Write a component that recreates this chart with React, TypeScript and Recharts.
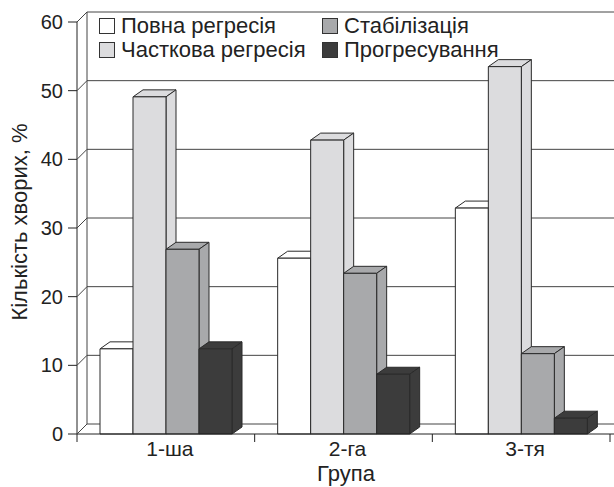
import { BarChart, Bar, XAxis, YAxis, CartesianGrid, Legend } from "recharts";

// ---- data ----
const groups = ["1-ша", "2-га", "3-тя"];
const fullRegression = [12.4, 25.6, 32.9];
const partialRegression = [49.1, 42.8, 53.5];
const stabilization = [26.9, 23.4, 11.7];
const progression = [12.4, 8.7, 2.3];
const seriesNames = ["Повна регресія", "Часткова регресія", "Стабілізація", "Прогресування"];
const seriesColors = ["#ffffff", "#dcdcde", "#a8a9ab", "#3c3c3c"];
const yTicks = [0, 10, 20, 30, 40, 50, 60];

const data = groups.map((g, i) => ({
  group: g,
  s0: fullRegression[i],
  s1: partialRegression[i],
  s2: stabilization[i],
  s3: progression[i],
}));

// ---- look ----
const W = 614;
const H = 487;
const margin = { top: 22, right: 4, bottom: 0, left: 0 };
const yAxisWidth = 77;
const xAxisHeight = 53;
const plotWidth = W - margin.left - margin.right - yAxisWidth;
const band = plotWidth / groups.length;
const wallDx = 10; // depth of the back wall
const wallDy = 10;
const barDx = 10; // depth of the columns
const barDy = 7;
const font = "'Liberation Sans', Arial, sans-serif";
const ink = "#222";
const gridColor = "#444";

// 3D column: front face + top + right side
const Column3D = (props: any) => {
  const { x, y, width, height, fill } = props;
  if (height == null || width == null) return null;
  const top = `${x},${y} ${x + barDx},${y - barDy} ${x + width + barDx},${y - barDy} ${x + width},${y}`;
  const side = `${x + width},${y} ${x + width + barDx},${y - barDy} ${x + width + barDx},${y + height - barDy} ${x + width},${y + height}`;
  return (
    <g stroke="#2a2a2a" strokeWidth={1} strokeLinejoin="round">
      <polygon points={top} fill={fill} />
      <polygon points={side} fill={fill} />
      <rect x={x} y={y} width={width} height={height} fill={fill} />
    </g>
  );
};

// gridlines pushed back onto the rear wall
const backLine = (p: any) => (
  <line
    key={p.key ?? `bl-${p.index}`}
    x1={p.x1 + wallDx}
    y1={p.y1 - wallDy}
    x2={p.x2 + wallDx}
    y2={p.y2 - wallDy}
    stroke={gridColor}
    strokeWidth={1}
  />
);

const YTick = (props: any) => {
  const { x, y, payload } = props;
  const axisX = x + 14; // tickSize 9 + tickMargin 5
  return (
    <g>
      <line x1={axisX} y1={y} x2={axisX + wallDx} y2={y - wallDy} stroke={gridColor} strokeWidth={1} />
      <text x={x} y={y} dy={7} textAnchor="end" fontSize={20} fontFamily={font} fill={ink}>
        {payload.value}
      </text>
    </g>
  );
};

const XTick = (props: any) => {
  const { x, y, payload, index } = props;
  const left = x - band / 2;
  return (
    <g>
      <line x1={left} y1={y} x2={left} y2={y + 8} stroke={ink} strokeWidth={1} />
      {index === groups.length - 1 && (
        <>
          <line x1={x + band / 2} y1={y} x2={x + band / 2} y2={y + 8} stroke={ink} strokeWidth={1} />
          <line x1={x + band / 2} y1={y} x2={x + band / 2 + 10} y2={y} stroke={ink} strokeWidth={1} />
        </>
      )}
      <text x={x + 4} y={y + 22} textAnchor="middle" fontSize={21} fontFamily={font} fill={ink}>
        {payload.value}
      </text>
    </g>
  );
};

const LegendBox = () => (
  <div
    style={{
      display: "grid",
      gridTemplateColumns: "223px auto",
      gridTemplateRows: "24px 24px",
      gridAutoFlow: "column",
      fontFamily: font,
      fontSize: 22,
      color: ink,
    }}
  >
    {seriesNames.map((name, i) => (
      <div key={name} style={{ display: "flex", alignItems: "center", gap: 6, whiteSpace: "nowrap" }}>
        <span
          style={{
            width: 16,
            height: 16,
            boxSizing: "border-box",
            border: "1px solid #333",
            background: seriesColors[i],
            display: "inline-block",
          }}
        />
        <span>{name}</span>
      </div>
    ))}
  </div>
);

export default function App() {
  return (
    <div style={{ position: "absolute", left: 0, top: 0, width: W, height: H, background: "#fff" }}>
      <BarChart width={W} height={H} data={data} margin={margin} barCategoryGap={23} barGap={0}>
        <CartesianGrid
          vertical={backLine}
          horizontal={backLine}
          verticalCoordinatesGenerator={({ offset }: any) => [offset.left]}
        />
        <XAxis
          dataKey="group"
          height={xAxisHeight}
          axisLine={{ stroke: ink }}
          tickLine={false}
          tickSize={0}
          tickMargin={0}
          tick={<XTick />}
          interval={0}
          label={{
            content: () => (
              <text x={346} y={481} textAnchor="middle" fontSize={22} fontFamily={font} fill={ink}>
                Група
              </text>
            ),
          }}
        />
        <YAxis
          width={yAxisWidth}
          domain={[0, 60]}
          ticks={yTicks}
          interval={0}
          axisLine={{ stroke: ink }}
          tickLine={{ stroke: ink }}
          tickSize={9}
          tickMargin={5}
          tick={<YTick />}
          label={{
            content: () => (
              <text
                x={27}
                y={222}
                transform="rotate(-90 27 222)"
                textAnchor="middle"
                fontSize={22}
                fontFamily={font}
                fill={ink}
              >
                Кількість хворих, %
              </text>
            ),
          }}
        />
        <Legend
          layout="vertical"
          align="center"
          verticalAlign="middle"
          wrapperStyle={{ top: 14, left: 99, width: "auto" }}
          content={<LegendBox />}
        />
        {seriesNames.map((name, i) => (
          <Bar
            key={name}
            dataKey={`s${i}`}
            name={name}
            fill={seriesColors[i]}
            shape={<Column3D />}
            isAnimationActive={false}
          />
        ))}
      </BarChart>
    </div>
  );
}
